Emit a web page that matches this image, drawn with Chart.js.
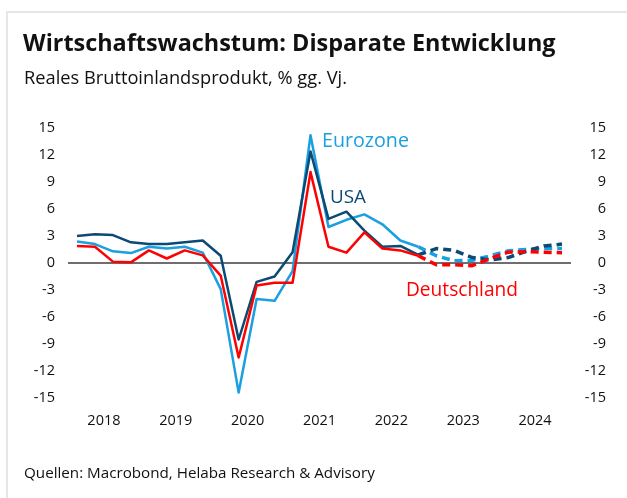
<!DOCTYPE html>
<html><head><meta charset="utf-8">
<script src="https://cdn.jsdelivr.net/npm/chart.js@4/dist/chart.umd.min.js"></script>
<style>
html,body{margin:0;padding:0;background:#fff;width:627px;height:498px;overflow:hidden;}
#frame{position:absolute;left:6px;top:11px;width:700px;height:600px;border-left:2px solid #e6e6e6;border-top:2px solid #e6e6e6;}
#wrap{position:absolute;left:0;top:0;width:627px;height:498px;}
.t{position:absolute;white-space:nowrap;line-height:1;font-family:'Open Sans',sans-serif;color:#111;}
</style></head><body>
<div id="frame"></div>
<div id="wrap"><canvas id="c" width="627" height="498" style="width:627px;height:498px"></canvas></div>
<div class="t" id="title" style="font-weight:700">Wirtschaftswachstum: Disparate Entwicklung</div>
<div class="t" id="sub">Reales Bruttoinlandsprodukt, % gg. Vj.</div>
<div class="t" id="src">Quellen: Macrobond, Helaba Research &amp; Advisory</div>
<div class="t" id="lEuro" style="color:#1a9fe0">Eurozone</div>
<div class="t" id="lUsa" style="color:#0b4a75">USA</div>
<div class="t" id="lDe" style="color:#ff0000">Deutschland</div>
<script>
// Quarterly data 2018 Q1 ... 2024 Q4 (index 0..27)
const years = ['2018','2019','2020','2021','2022','2023','2024'];
const yTicks = [-15,-12,-9,-6,-3,0,3,6,9,12,15];
// actual values 2018 Q1 .. 2022 Q4
const usaActual  = [3.0, 3.2, 3.1, 2.3, 2.1, 2.1, 2.3, 2.5, 0.8, -8.5, -2.1, -1.5, 1.2, 12.4, 4.9, 5.7, 3.6, 1.8, 1.9, 0.9];
const euroActual = [2.4, 2.1, 1.3, 1.1, 1.8, 1.6, 1.8, 1.15, -2.9, -14.4, -4.0, -4.2, -0.9, 14.2, 4.0, 4.8, 5.4, 4.3, 2.5, 1.8];
const deActual   = [1.9, 1.8, 0.15, 0.07, 1.4, 0.5, 1.4, 0.85, -1.4, -10.5, -2.5, -2.2, -2.2, 10.1, 1.8, 1.15, 3.4, 1.6, 1.4, 0.8];
// forecast values 2022 Q4 .. 2024 Q4
const forecastStart = 19;
const usaForecast  = [0.9, 1.6, 1.4, 0.6, 0.35, 0.6, 1.3, 1.9, 2.1];
const euroForecast = [1.8, 0.8, 0.25, 0.3, 0.8, 1.35, 1.5, 1.6, 1.6];
const deForecast   = [0.8, -0.2, -0.2, -0.3, 0.5, 1.2, 1.25, 1.2, 1.15];

const C_USA = '#0b4a75', C_EURO = '#1a9fe0', C_DE = '#ff0000';
const pts = (arr, start) => arr.map((v, i) => ({x: start + i, y: v}));
function solid(data, color, order){ return {data, borderColor: color, borderWidth: 2.5, pointRadius: 0, order, fill:false, yAxisID:'y'}; }
function dashed(data, color, order){ return {data, borderColor: color, borderWidth: 3.5, borderDash:[8,5], pointRadius: 0, order, fill:false, yAxisID:'y'}; }

const tickFont = {family: "'Open Sans', sans-serif", size: 14.5};
new Chart(document.getElementById('c'), {
  type: 'line',
  data: {datasets: [
    solid(pts(deActual,0), C_DE, 1),
    solid(pts(usaActual,0), C_USA, 2),
    solid(pts(euroActual,0), C_EURO, 3),
    dashed(pts(deForecast,forecastStart), C_DE, 1),
    dashed(pts(usaForecast,forecastStart), C_USA, 2),
    dashed(pts(euroForecast,forecastStart), C_EURO, 3)
  ]},
  options: {
    responsive: false, animation: false,
    layout: {padding: {left: 0, right: 21, top: 128, bottom: 60}},
    plugins: {legend: {display: false}, tooltip: {enabled: false}},
    elements: {line: {tension: 0, borderCapStyle: 'butt', borderJoinStyle: 'round'}},
    scales: {
      x: {
        type: 'linear', min: -0.5, max: 27.5,
        afterBuildTicks: s => { s.ticks = years.map((y, i) => ({value: i * 4 + 1.5})); },
        afterFit: s => { s.height = 40; },
        grid: {display: false, drawTicks: false}, border: {display: false},
        ticks: {autoSkip: false, maxRotation: 0, padding: 14, color: '#111', font: tickFont,
          callback: (v, i) => years[i]}
      },
      y: {
        position: 'left', min: -15, max: 15,
        afterBuildTicks: s => { s.ticks = yTicks.map(v => ({value: v})); },
        afterFit: s => { s.width = 68; },
        grid: {drawTicks: false, lineWidth: 2, color: c => (c.tick && c.tick.value === 0) ? '#6e6e6e' : 'rgba(0,0,0,0)'},
        border: {display: false},
        ticks: {padding: 13, color: '#111', font: tickFont}
      },
      y2: {
        position: 'right', min: -15, max: 15,
        afterBuildTicks: s => { s.ticks = yTicks.map(v => ({value: v})); },
        afterFit: s => { s.width = 35; },
        grid: {display: false, drawTicks: false}, border: {display: false},
        ticks: {crossAlign: 'far', padding: 0, color: '#111', font: tickFont}
      }
    }
  }
});

// place HTML text: left, baseline, target width
function place(id, left, baseline, width, base){
  const el = document.getElementById(id);
  el.style.fontSize = base + 'px';
  const w = el.getBoundingClientRect().width;
  const s = base * width / w;
  el.style.fontSize = s + 'px';
  el.style.left = left + 'px';
  el.style.top = (baseline - 0.888 * s) + 'px';
}
place('title', 23, 52, 533, 20);
place('sub', 24, 84, 323, 16);
place('src', 24, 478, 351, 15);
place('lEuro', 322, 147, 87, 18);
place('lUsa', 330, 204, 36, 18);
place('lDe', 406, 297, 112, 18);
</script>
</body></html>
